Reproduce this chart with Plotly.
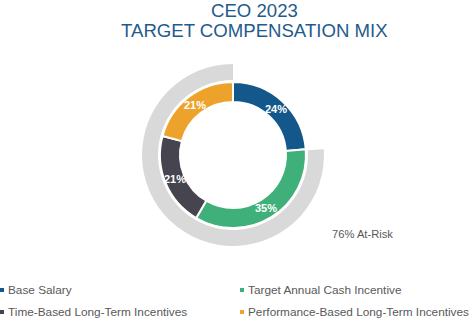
import math
import plotly.graph_objects as go

categories = ["Base Salary", "Target Annual Cash Incentive",
              "Time-Based Long-Term Incentives", "Performance-Based Long-Term Incentives"]
values = [24, 35, 21, 21]
colors = ["#14578a", "#40b07a", "#45444f", "#eda32b"]

risk_labels = ["Not At-Risk", "At-Risk"]
risk_values = [24, 76]
risk_colors = ["rgba(0,0,0,0)", "#d9d9d9"]

W, H = 472, 319
FONT = "Arial, Liberation Sans, sans-serif"

fig = go.Figure()

cx, cy = 233, 164
ro, ri = 91, 73
hole_in = 0.726

fig.add_trace(go.Pie(
    labels=risk_labels, values=risk_values, hole=0.824, sort=False,
    direction="clockwise", rotation=0,
    marker=dict(colors=risk_colors, line=dict(width=0)),
    textinfo="none", hoverinfo="skip", showlegend=False,
    domain=dict(x=[(cx - ro) / W, (cx + ro) / W], y=[(cy - ro) / H, (cy + ro) / H]),
))

fig.add_trace(go.Pie(
    labels=categories, values=values, hole=hole_in, sort=False,
    direction="clockwise", rotation=0,
    marker=dict(colors=colors, line=dict(color="white", width=2)),
    textinfo="none", showlegend=False,
    domain=dict(x=[(cx - ri) / W, (cx + ri) / W], y=[(cy - ri) / H, (cy + ri) / H]),
))

# slice value labels placed at the mid-angle of each slice (derived from values)
total = sum(values)
rmid = ri * (1 + hole_in) / 2
cum = 0
for v in values:
    ang = 2 * math.pi * (cum + v / 2) / total
    cum += v
    px = cx + rmid * math.sin(ang)
    py = cy + rmid * math.cos(ang)
    fig.add_annotation(x=px / W, y=py / H, xref="paper", yref="paper",
                       text=f"{v}%", showarrow=False, xanchor="center", yanchor="middle",
                       font=dict(size=11, color="white", family=FONT, weight="bold"))

legend_pos = [(6, 290), (246, 290), (6, 312), (246, 312)]
for (lx, ly), name, col in zip(legend_pos, categories, colors):
    fig.add_annotation(x=lx / W, y=(H - ly) / H, xref="paper", yref="paper",
                       text=name, showarrow=False, xanchor="left", yanchor="middle",
                       font=dict(size=11.8, color="#595959", family=FONT))
    fig.add_shape(type="rect", xref="paper", yref="paper",
                  x0=(lx - 6) / W, x1=(lx - 2) / W,
                  y0=(H - ly - 2) / H, y1=(H - ly + 2) / H,
                  fillcolor=col, line=dict(width=0))

fig.add_annotation(x=330 / W, y=(H - 234) / H, xref="paper", yref="paper",
                   text="76% At-Risk", showarrow=False, xanchor="left", yanchor="middle",
                   font=dict(size=11.2, color="#595959", family=FONT))

for txt, ty in [("CEO 2023", 11), ("TARGET COMPENSATION MIX", 30)]:
    fig.add_annotation(x=254 / W, y=(H - ty) / H, xref="paper", yref="paper",
                       text=txt, showarrow=False, xanchor="center", yanchor="middle",
                       font=dict(size=18.6, color="#1f5b8c", family=FONT))

fig.update_layout(
    width=W, height=H,
    margin=dict(l=0, r=0, t=0, b=0),
    paper_bgcolor="white", plot_bgcolor="white",
    showlegend=False,
)

fig.write_html("out.html")
